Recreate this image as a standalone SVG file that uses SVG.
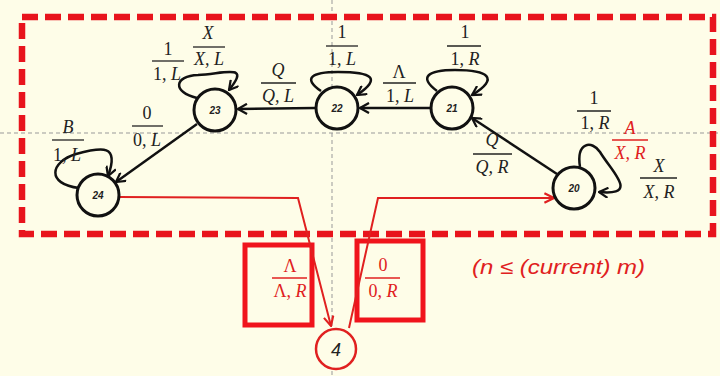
<svg xmlns="http://www.w3.org/2000/svg" width="720" height="376" viewBox="0 0 720 376">
<defs>
<style>
.bg{fill:#FEFDE8}
.guide{stroke:#999;stroke-width:1;stroke-dasharray:4,3;fill:none}
.frame{fill:none;stroke:#E8141C;stroke-width:6.5;stroke-dasharray:16,7}
.box{fill:none;stroke:#F0141C;stroke-width:5}
.node{fill:#FEFDE8;stroke:#111;stroke-width:3}
.rnode{fill:#FEFDE8;stroke:#E02020;stroke-width:2.5}
.nl{font-family:"Liberation Sans",Arial,sans-serif;font-size:10px;font-style:italic;font-weight:bold;fill:#222;text-anchor:middle}
.edge{fill:none;stroke:#111;stroke-width:2.5}
.redge{fill:none;stroke:#E02020;stroke-width:2}
.f{font-family:"Liberation Serif","Times New Roman",serif;font-size:18px;fill:#222;text-anchor:middle}
.fr{font-family:"Liberation Serif","Times New Roman",serif;font-size:18px;fill:#E02020;text-anchor:middle}
.i{font-style:italic}
.fl{stroke:#222;stroke-width:1.3}
.flr{stroke:#E02020;stroke-width:1.3}
.note{font-family:"Liberation Sans",Arial,sans-serif;font-size:20px;font-style:italic;fill:#E02020}
</style>
<marker id="ah" viewBox="0 0 10 10" refX="9" refY="5" markerWidth="4.5" markerHeight="4.5" orient="auto" markerUnits="strokeWidth">
<path d="M1,0.5 L9,5 L1,9.5" fill="none" stroke="#111" stroke-width="2"/>
</marker>
<marker id="ahr" viewBox="0 0 10 10" refX="9" refY="5" markerWidth="6" markerHeight="6" orient="auto" markerUnits="strokeWidth">
<path d="M1,1 L9,5 L1,9" fill="none" stroke="#E02020" stroke-width="1.8"/>
</marker>
</defs>
<rect class="bg" x="0" y="0" width="720" height="376"/>
<g id="guides">
<line class="guide" x1="0" y1="133" x2="720" y2="133"/>
<line class="guide" x1="332" y1="0" x2="332" y2="376"/>
</g>
<rect class="frame" x="22" y="17" width="691" height="217"/>
<rect class="box" x="245" y="245" width="67" height="80"/>
<rect class="box" x="357" y="241" width="66" height="79"/>
<g id="connectors">
<line class="edge" x1="315" y1="108" x2="238" y2="109" marker-end="url(#ah)"/>
<line class="edge" x1="430" y1="108" x2="360" y2="108" marker-end="url(#ah)"/>
<line class="edge" x1="557" y1="174" x2="472" y2="118" marker-end="url(#ah)"/>
<line class="edge" x1="197" y1="124" x2="116" y2="182" marker-end="url(#ah)"/>
<path class="edge" d="M197,98 C172,92 174,76 198,75 C228,73 250,64 229,90" marker-end="url(#ah)"/>
<path class="edge" d="M321,91 C302,78 312,72 338,72 C372,72 382,78 357,95" marker-end="url(#ah)"/>
<path class="edge" d="M437,91 C418,77 428,70 455,70 C488,70 500,78 472,95" marker-end="url(#ah)"/>
<path class="edge" d="M79,188 C46,184 50,162 76,154 C102,147 120,144 108,176" marker-end="url(#ah)"/>
<path class="edge" d="M580,167 C576,142 592,140 600,152 C612,172 640,196 599,192" marker-end="url(#ah)"/>
<path class="redge" d="M119,197 L298,198 L331,326" marker-end="url(#ahr)"/>
<path class="redge" d="M349,328 L378,198 L554,198" marker-end="url(#ahr)"/>
</g>
<g id="n23"><circle class="node" cx="215" cy="110" r="21"/><text class="nl" x="215" y="114">23</text></g>
<g id="n24"><circle class="node" cx="98" cy="195" r="21"/><text class="nl" x="98" y="199">24</text></g>
<g id="n22"><circle class="node" cx="337" cy="108" r="21"/><text class="nl" x="337" y="112">22</text></g>
<g id="n21"><circle class="node" cx="452" cy="108" r="21"/><text class="nl" x="452" y="112">21</text></g>
<g id="n20"><circle class="node" cx="574" cy="188" r="21"/><text class="nl" x="574" y="192">20</text></g>
<g id="n4"><circle class="rnode" cx="336" cy="349" r="20"/><text x="336" y="356" font-family="Liberation Sans,Arial,sans-serif" font-size="18" font-style="italic" fill="#222" text-anchor="middle">4</text></g>
<g id="labels">
<text class="f" x="168" y="55">1</text><line class="fl" x1="152" y1="61" x2="184" y2="61"/><text class="f" x="167" y="80">1, <tspan class="i">L</tspan></text>
<text class="f i" x="208" y="39">X</text><line class="fl" x1="193" y1="47" x2="225" y2="47"/><text class="f i" x="209" y="65">X, L</text>
<text class="f" x="147" y="119">0</text><line class="fl" x1="132" y1="126" x2="163" y2="126"/><text class="f" x="147" y="146">0, <tspan class="i">L</tspan></text>
<text class="f i" x="68" y="133">B</text><line class="fl" x1="52" y1="140" x2="84" y2="140"/><text class="f" x="67" y="161">1, <tspan class="i">L</tspan></text>
<text class="f i" x="278" y="76">Q</text><line class="fl" x1="261" y1="83" x2="296" y2="83"/><text class="f i" x="278" y="102">Q, L</text>
<text class="f" x="342" y="38">1</text><line class="fl" x1="326" y1="46" x2="358" y2="46"/><text class="f" x="342" y="65">1, <tspan class="i">L</tspan></text>
<text class="f" x="399" y="78">Λ</text><line class="fl" x1="383" y1="83" x2="416" y2="83"/><text class="f" x="400" y="102">1, <tspan class="i">L</tspan></text>
<text class="f" x="465" y="38">1</text><line class="fl" x1="447" y1="46" x2="481" y2="46"/><text class="f" x="465" y="65">1, <tspan class="i">R</tspan></text>
<text class="f i" x="492" y="146">Q</text><line class="fl" x1="473" y1="154" x2="512" y2="154"/><text class="f i" x="492" y="173">Q, R</text>
<text class="f" x="594" y="104">1</text><line class="fl" x1="577" y1="111" x2="611" y2="111"/><text class="f" x="595" y="129">1, <tspan class="i">R</tspan></text>
<text class="fr i" x="630" y="134">A</text><line class="flr" x1="612" y1="140" x2="648" y2="140"/><text class="fr i" x="630" y="159">X, R</text>
<text class="f i" x="659" y="172">X</text><line class="fl" x1="640" y1="178" x2="677" y2="178"/><text class="f i" x="659" y="198">X, R</text>
<text class="fr" x="290" y="272">Λ</text><line class="flr" x1="272" y1="278" x2="307" y2="278"/><text class="fr" x="290" y="297">Λ, <tspan class="i">R</tspan></text>
<text class="fr" x="383" y="271">0</text><line class="flr" x1="365" y1="278" x2="400" y2="278"/><text class="fr" x="383" y="297">0, <tspan class="i">R</tspan></text>
<text class="note" x="472" y="274" textLength="173" lengthAdjust="spacingAndGlyphs">(n ≤ (current) m)</text>
</g>
</svg>
